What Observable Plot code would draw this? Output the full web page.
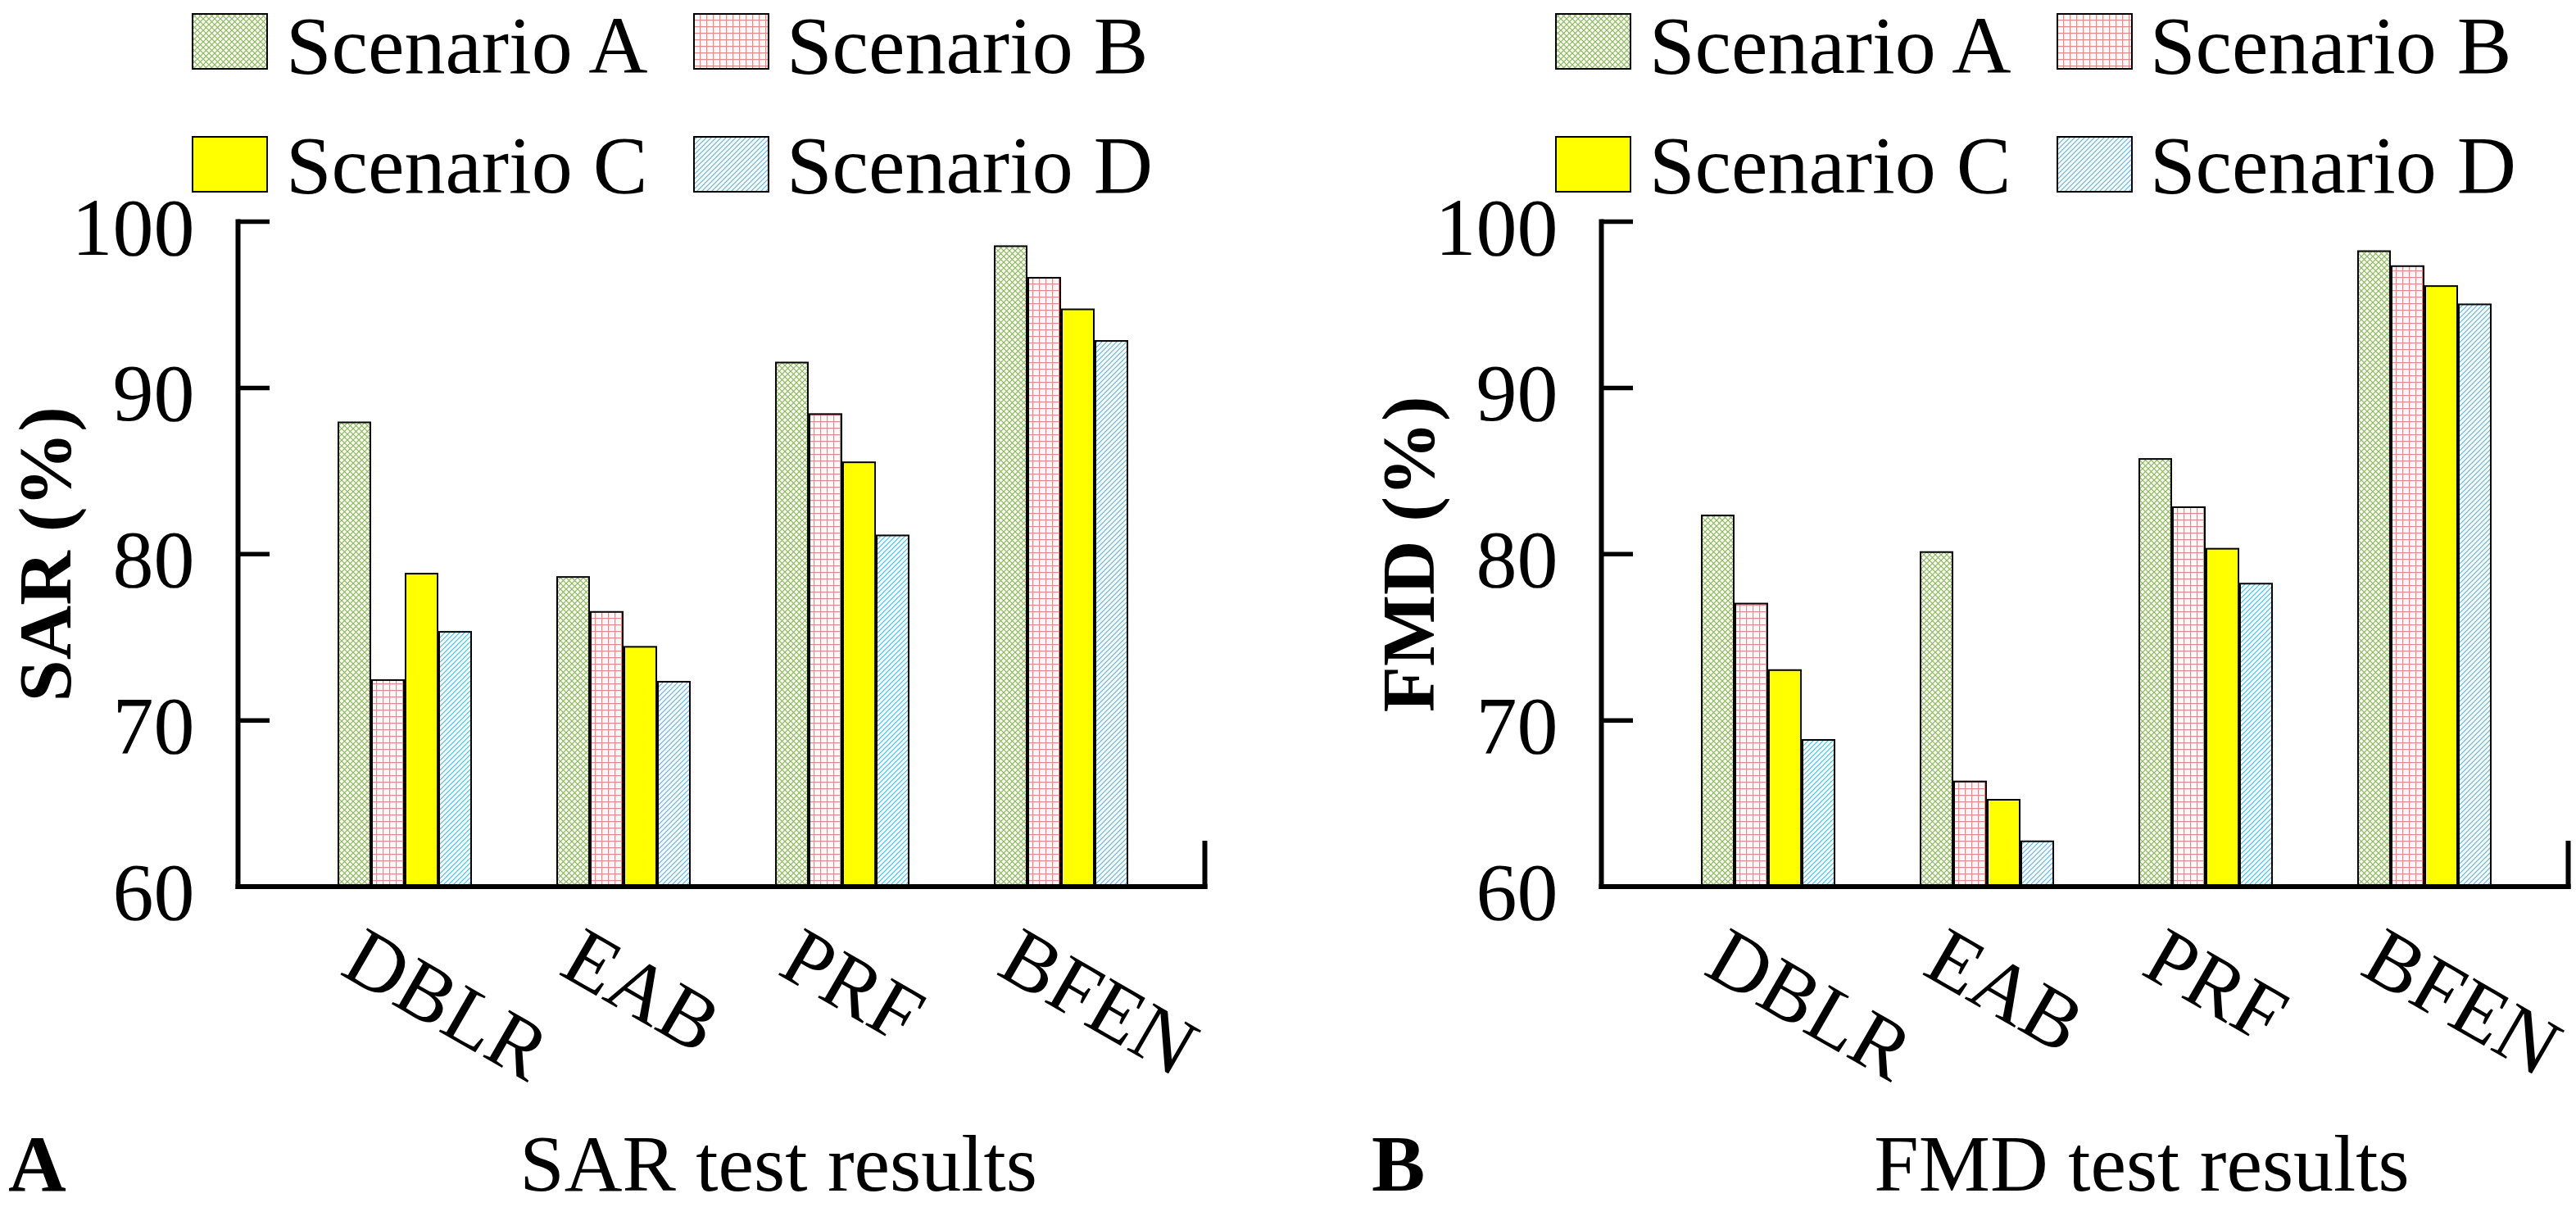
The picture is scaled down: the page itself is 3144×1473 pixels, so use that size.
<!DOCTYPE html>
<html>
<head>
<meta charset="utf-8">
<script src="https://cdn.jsdelivr.net/npm/d3@7"></script>
<script src="https://cdn.jsdelivr.net/npm/@observablehq/plot@0.6"></script>
<style>
  html, body { margin: 0; padding: 0; background: #fff; }
  #page { position: relative; width: 3144px; height: 1473px; overflow: hidden; background: #fff;
          font-family: "Liberation Serif", "Times New Roman", serif; color: #000; }
  .panel { position: absolute; top: 0; width: 1480px; height: 1473px; }
  .plotwrap { position: absolute; left: 0; top: 250px; }
  .sw { position: absolute; width: 93px; height: 69px; }
  .lt { position: absolute; font-size: 100px; line-height: 100px; white-space: nowrap; }
  .cap { position: absolute; font-size: 98px; line-height: 98px; white-space: nowrap; }
</style>
</head>
<body>
<svg width="0" height="0" style="position:absolute">
  <defs>
    <pattern id="patA" width="7" height="7" patternUnits="userSpaceOnUse">
      <rect width="7" height="7" fill="#f9fbec"/>
      <path d="M0,0L7,7M7,0L0,7" stroke="#8db566" stroke-width="1.2" fill="none"/>
    </pattern>
    <pattern id="patB" width="8" height="8" patternUnits="userSpaceOnUse">
      <rect width="8" height="8" fill="#fff8f8"/>
      <path d="M0,0.6H8M0.6,0V8" stroke="#de8e8e" stroke-width="1.2" fill="none"/>
    </pattern>
    <pattern id="patD" width="6" height="6" patternUnits="userSpaceOnUse">
      <rect width="6" height="6" fill="#f6fcff"/>
      <path d="M-1,1L1,-1M0,6L6,0M5,7L7,5" stroke="#4fb8e2" stroke-width="1.1" fill="none"/>
    </pattern>
  </defs>
</svg>
<div id="page"></div>
<script>
// ---- data ----
const categories = ["DBLR", "EAB", "PRF", "BFEN"];
const scenarios = ["Scenario A", "Scenario B", "Scenario C", "Scenario D"];
const yTicks = [60, 70, 80, 90, 100];

const sarScenarioA = [87.9, 78.6, 91.5, 98.5];
const sarScenarioB = [72.4, 76.5, 88.4, 96.6];
const sarScenarioC = [78.8, 74.4, 85.5, 94.7];
const sarScenarioD = [75.3, 72.3, 81.1, 92.8];

const fmdScenarioA = [82.3, 80.1, 85.7, 98.2];
const fmdScenarioB = [77.0, 66.3, 82.8, 97.3];
const fmdScenarioC = [73.0, 65.2, 80.3, 96.1];
const fmdScenarioD = [68.8, 62.7, 78.2, 95.0];

const fills = ["url(#patA)", "url(#patB)", "#ffff00", "url(#patD)"];
const yMin = 60, yMax = 100;

const W = 1480, H = 1110, mTop = 20, mBottom = 278.5, mLeft = 290, mRight = 10;
const innerH = H - mTop - mBottom;
const baseStyle = {position: "absolute", left: "0px", top: "0px", background: "transparent", overflow: "visible",
                   maxWidth: "none", fontFamily: "'Liberation Serif', 'Times New Roman', serif", color: "#000"};

function makePanel({left, values, yLabel, letter, caption}) {
  const rows = [];
  scenarios.forEach((s, j) => values[j].forEach((v, i) => rows.push({category: categories[i], scenario: s, value: v})));

  // bars (faceted by category)
  const bars = Plot.plot({
    width: W, height: H,
    marginLeft: mLeft, marginRight: mRight, marginTop: mTop, marginBottom: mBottom,
    style: baseStyle,
    fx: {domain: categories, paddingInner: 0.391, paddingOuter: 0.3995, align: 0.57, label: null},
    x: {domain: scenarios, paddingInner: 0.04, paddingOuter: 0, axis: null},
    y: {domain: [yMin, yMax], axis: null},
    marks: [
      ...scenarios.map((s, j) => Plot.barY(rows.filter(d => d.scenario === s), {
        fx: "category", x: "scenario", y1: yMin, y2: "value",
        fill: fills[j], stroke: "#000", strokeWidth: 2
      })),
      Plot.axisFx({anchor: "bottom", tickSize: 0, tickRotate: 30, tickPadding: 78, dx: -66,
                   fontSize: 100, label: null})
    ]
  });

  // axes overlay (same y scale, no facets)
  const axes = Plot.plot({
    width: W, height: H,
    marginLeft: mLeft, marginRight: mRight, marginTop: mTop, marginBottom: mBottom,
    style: baseStyle,
    y: {domain: [yMin, yMax]},
    marks: [
      Plot.frame({anchor: "left", stroke: "#000", strokeWidth: 6, strokeLinecap: "square"}),
      Plot.frame({anchor: "bottom", stroke: "#000", strokeWidth: 6, strokeLinecap: "square"}),
      Plot.frame({anchor: "right", stroke: "#000", strokeWidth: 6, insetTop: innerH - 53}),
      Plot.axisY({ticks: yTicks, tickSize: -39, strokeWidth: 5.5, tickFormat: () => "", label: null}),
      Plot.axisY({ticks: yTicks, tickSize: 0, tickPadding: 53, dy: 8, fontSize: 100, label: null}),
      Plot.axisY({ticks: [], tickSize: 0, label: yLabel, labelAnchor: "center",
                  labelOffset: 270, labelArrow: false, fontSize: 92, fontWeight: "bold"})
    ]
  });

  const panel = document.createElement("div");
  panel.className = "panel";
  panel.style.left = left + "px";

  const wrap = document.createElement("div");
  wrap.className = "plotwrap";
  wrap.style.width = W + "px"; wrap.style.height = H + "px";
  wrap.appendChild(bars);
  wrap.appendChild(axes);
  panel.appendChild(wrap);

  // legend
  scenarios.forEach((s, j) => {
    const col = j % 2, row = Math.floor(j / 2);
    const sw = document.createElementNS("http://www.w3.org/2000/svg", "svg");
    sw.setAttribute("class", "sw");
    sw.setAttribute("width", 93); sw.setAttribute("height", 69);
    sw.style.left = (234 + col * 612) + "px";
    sw.style.top = (16 + row * 150) + "px";
    const r = document.createElementNS("http://www.w3.org/2000/svg", "rect");
    r.setAttribute("x", 1); r.setAttribute("y", 1); r.setAttribute("width", 91); r.setAttribute("height", 67);
    r.setAttribute("fill", fills[j]); r.setAttribute("stroke", "#000"); r.setAttribute("stroke-width", 2);
    sw.appendChild(r);
    panel.appendChild(sw);
    const t = document.createElement("div");
    t.className = "lt";
    t.textContent = s;
    t.style.left = (349 + col * 611) + "px";
    t.style.top = (6 + row * 146) + "px";
    panel.appendChild(t);
  });

  // captions
  const l = document.createElement("div");
  l.className = "cap"; l.style.fontWeight = "bold";
  l.style.left = "10px"; l.style.top = "1371px";
  l.textContent = letter;
  panel.appendChild(l);
  const c = document.createElement("div");
  c.className = "cap";
  c.style.left = "450px"; c.style.width = "1000px"; c.style.textAlign = "center"; c.style.top = "1371px";
  c.textContent = caption;
  panel.appendChild(c);

  document.getElementById("page").appendChild(panel);
}

makePanel({left: 0, values: [sarScenarioA, sarScenarioB, sarScenarioC, sarScenarioD],
           yLabel: "SAR (%)", letter: "A", caption: "SAR test results"});
makePanel({left: 1664, values: [fmdScenarioA, fmdScenarioB, fmdScenarioC, fmdScenarioD],
           yLabel: "FMD (%)", letter: "B", caption: "FMD test results"});
</script>
</body>
</html>
